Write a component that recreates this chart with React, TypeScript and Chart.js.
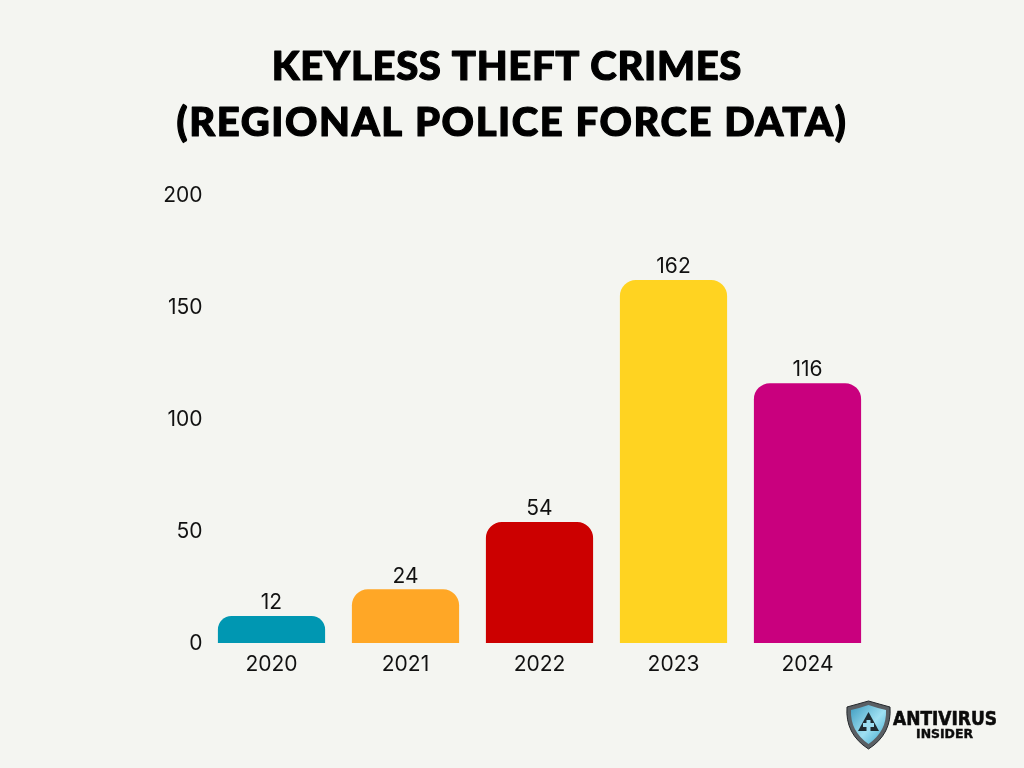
import React, { useEffect, useRef } from "react";
import { Chart, registerables } from "chart.js";

Chart.register(...registerables);

const titleLines = ["KEYLESS THEFT CRIMES ", "(REGIONAL POLICE FORCE DATA)"];
const years = ["2020", "2021", "2022", "2023", "2024"];
const crimes = [12, 24, 54, 162, 116];
const barColors = ["#0097b2", "#ffa726", "#cc0000", "#ffd321", "#c9007e"];
const yTicks = [0, 50, 100, 150, 200];
const BG = "#f4f5f1";
const FONT = "Inter";

const titleBaselines = [80, 136];
const titleSpacing = ["0.7px", "1.6px"];

const pageTitle = {
  id: "pageTitle",
  afterDraw(chart: any) {
    const { ctx } = chart;
    ctx.save();
    ctx.font = `900 40px Lato`;
    ctx.fillStyle = "#000000";
    ctx.strokeStyle = "#000000";
    ctx.lineWidth = 1.2;
    ctx.lineJoin = "round";
    ctx.textAlign = "center";
    ctx.textBaseline = "alphabetic";
    titleLines.forEach((line, i) => {
      ctx.letterSpacing = titleSpacing[i];
      ctx.fillText(line, 512, titleBaselines[i]);
      ctx.strokeText(line, 512, titleBaselines[i]);
    });
    ctx.restore();
  },
};

const valueLabels = {
  id: "valueLabels",
  afterDatasetsDraw(chart: any) {
    const { ctx } = chart;
    const meta = chart.getDatasetMeta(0);
    ctx.save();
    ctx.font = `21px ${FONT}`;
    ctx.fillStyle = "#111111";
    ctx.textAlign = "center";
    ctx.textBaseline = "bottom";
    meta.data.forEach((bar: any, i: number) => {
      ctx.fillText(String(crimes[i]), bar.x, bar.y - 2.5);
    });
    ctx.restore();
  },
};

function Logo() {
  return (
    <svg
      width={180}
      height={60}
      viewBox="0 0 180 60"
      style={{ position: "absolute", left: 844, top: 696 }}
    >
      <defs>
        <linearGradient id="shieldFill" x1="0" y1="0" x2="1" y2="1">
          <stop offset="0" stopColor="#3f9cc0" />
          <stop offset="0.55" stopColor="#9fe0f2" />
          <stop offset="1" stopColor="#3aa5cc" />
        </linearGradient>
      </defs>
      <path
        d="M3 11 Q14 8 24.500 5 Q35 8 46 11 Q48 38 24.500 53 Q1 38 3 11 Z"
        fill="#5a5f64"
        stroke="#23272b"
        strokeWidth="1"
      />
      <path
        d="M7 14 Q16 12 24.500 9 Q33 12 42 14 Q43 35 24.500 48 Q6 35 7 14 Z"
        fill="url(#shieldFill)"
      />
      <path d="M24.500 16 L35 35 H14 Z" fill="#1f2a30" />
      <path d="M22.500 24 H26.500 V27 H30 V31 H26.500 V35 H22.500 V31 H19 V27 H22.500 Z" fill="#9adcf0" />
      <text
        x="49"
        y="29"
        fontFamily="'DejaVu Sans', sans-serif"
        fontWeight="700"
        fontSize="19"
        textLength="104"
        lengthAdjust="spacingAndGlyphs"
        fill="#0b0b0b"
        stroke="#0b0b0b"
        strokeWidth="0.6"
      >
        ANTIVIRUS
      </text>
      <text
        x="72"
        y="42"
        fontFamily="'DejaVu Sans', sans-serif"
        fontWeight="700"
        fontSize="12.500"
        textLength="57"
        lengthAdjust="spacingAndGlyphs"
        fill="#0b0b0b"
        stroke="#0b0b0b"
        strokeWidth="0.4"
      >
        INSIDER
      </text>
    </svg>
  );
}

export default function App() {
  const ref = useRef<HTMLCanvasElement>(null);

  useEffect(() => {
    document.body.style.margin = "0";
    document.body.style.background = BG;
    const chart = new Chart(ref.current!, {
      type: "bar",
      data: {
        labels: years,
        datasets: [
          {
            data: crimes,
            backgroundColor: barColors,
            borderRadius: { topLeft: 16, topRight: 16, bottomLeft: 0, bottomRight: 0 },
            borderSkipped: false,
            barPercentage: 0.8,
            categoryPercentage: 1,
          },
        ],
      },
      options: {
        responsive: false,
        animation: false,
        layout: { padding: { top: 195, right: 149.5, bottom: 0, left: 0 } },
        plugins: {
          legend: { display: false },
          tooltip: { enabled: false },
          title: { display: false },
        },
        scales: {
          x: {
            grid: { display: false, drawTicks: false },
            border: { display: false },
            ticks: { color: "#111111", font: { family: FONT, size: 21 }, padding: 9, maxRotation: 0 },
            afterFit(scale: any) {
              scale.height = 125;
            },
          },
          y: {
            min: 0,
            max: 200,
            afterBuildTicks(scale: any) {
              scale.ticks = yTicks.map((value) => ({ value }));
            },
            grid: { display: false, drawTicks: false },
            border: { display: false },
            ticks: { color: "#111111", font: { family: FONT, size: 21 }, padding: 2 },
            afterFit(scale: any) {
              scale.width = 204.5;
            },
            afterUpdate(scale: any) {
              const original = scale.getLabelItems.bind(scale);
              scale.getLabelItems = (area: any) =>
                original(area).map((item: any) => ({ ...item, textOffset: item.textOffset + 0.5 }));
            },
          },
        },
      },
      plugins: [valueLabels, pageTitle],
    } as any);
    return () => chart.destroy();
  }, []);

  return (
    <div style={{ position: "relative", width: 1024, height: 768, background: BG, overflow: "hidden" }}>
      <canvas ref={ref} width={1024} height={768} style={{ display: "block" }} />
      <Logo />
    </div>
  );
}
